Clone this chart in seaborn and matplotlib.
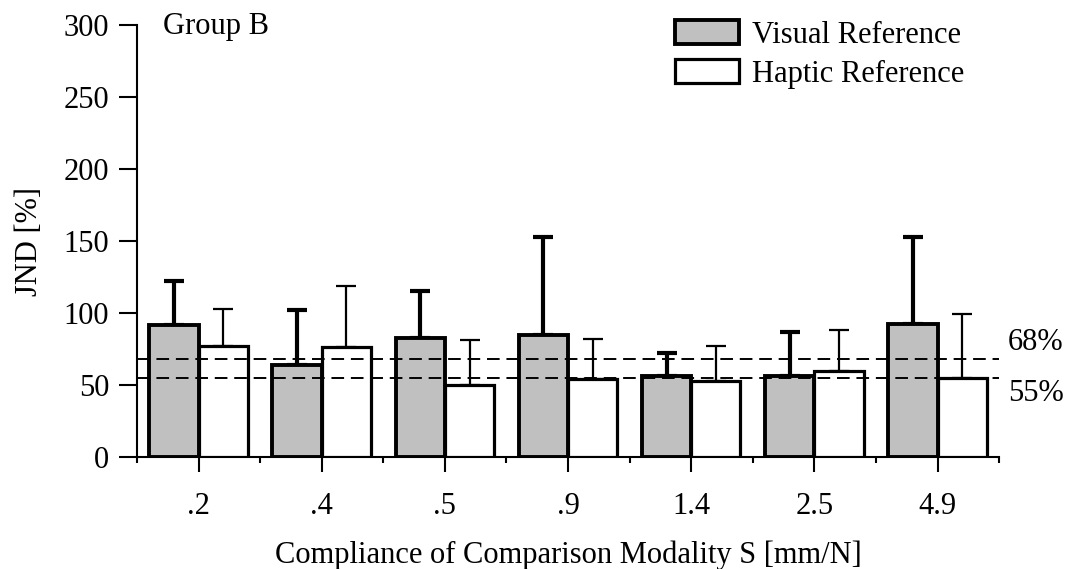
import matplotlib
matplotlib.use('Agg')
import matplotlib.pyplot as plt
import numpy as np
import pandas as pd
import seaborn as sns

compliance = ['.2', '.4', '.5', '.9', '1.4', '2.5', '4.9']
visual_mean = [92, 64, 83, 85, 56, 56.5, 92.5]
visual_err = [122, 102, 115, 153, 72, 87, 153]
haptic_mean = [77, 76.5, 50, 54, 53, 60, 55]
haptic_err = [103, 119, 81, 82, 77, 88.5, 99]
refs = ['Visual Reference', 'Haptic Reference']
thresholds = [68, 55]
threshold_labels = ['68%', '55%']

df = pd.DataFrame({
    'comp': compliance * 2,
    'jnd': visual_mean + haptic_mean,
    'ref': [refs[0]] * len(compliance) + [refs[1]] * len(compliance),
})

sns.set_style('ticks')
plt.rcParams['font.family'] = ['Liberation Serif', 'DejaVu Serif']
plt.rcParams['text.color'] = 'black'
plt.rcParams['axes.labelcolor'] = 'black'
plt.rcParams['xtick.color'] = 'black'
plt.rcParams['ytick.color'] = 'black'
plt.rcParams['axes.edgecolor'] = 'black'
FS = 22

fig = plt.figure(figsize=(10.71, 5.69), dpi=100)
ax = fig.add_axes([0.1279, 0.1968, 0.805, 0.7592])

sns.barplot(data=df, x='comp', y='jnd', hue='ref', hue_order=refs,
            palette=['#c0c0c0', 'white'], order=compliance, width=0.8,
            errorbar=None, ax=ax)

# bar edges
edge_w = [2.8, 2.3]
for cont, lw in zip(ax.containers, edge_w):
    for p in cont:
        p.set_edgecolor('black')
        p.set_linewidth(lw)
        p.set_zorder(3)

# upward-only error bars, thick for visual, thin for haptic
err_w = [3.0, 1.6]
for cont, means, tops, lw in zip(ax.containers, [visual_mean, haptic_mean],
                                 [visual_err, haptic_err], err_w):
    xs = [p.get_x() + p.get_width() / 2 for p in cont]
    up = np.array(tops) - np.array(means)
    ax.errorbar(xs, means, yerr=[np.zeros_like(up), up], fmt='none',
                ecolor='black', elinewidth=lw, capsize=7.5, capthick=lw,
                zorder=1)

# threshold lines
for t in thresholds:
    ax.axhline(t, color='black', lw=1.4, dashes=(6.5, 3.5), zorder=5)
ax.text(1.01, thresholds[0] + 1.5, threshold_labels[0],
        transform=ax.get_yaxis_transform(), va='bottom', ha='left', fontsize=FS)
ax.text(1.01, thresholds[1] - 1, threshold_labels[1],
        transform=ax.get_yaxis_transform(), va='top', ha='left', fontsize=FS)

ax.set_xlim(-0.5, 6.5)
ax.set_ylim(0, 300)
ax.set_yticks(range(0, 301, 50))
ax.set_xticks(range(len(compliance)))
ax.set_xticklabels(compliance)
ax.set_xticks(np.arange(-0.5, 7, 1), minor=True)
ax.tick_params(axis='x', which='major', length=11, width=1.5, pad=14, labelsize=FS)
ax.tick_params(axis='x', which='minor', length=4, width=1.5)
ax.tick_params(axis='y', which='major', length=13, width=1.5, pad=7, labelsize=FS)
sns.despine(ax=ax)
for s in ['left', 'bottom']:
    ax.spines[s].set_linewidth(1.5)

ax.set_ylabel('JND [%]', fontsize=FS, labelpad=14)
ax.set_xlabel('Compliance of Comparison Modality S [mm/N]', fontsize=FS, labelpad=14)
ax.text(0.03, 0.997, 'Group B', transform=ax.transAxes, fontsize=FS,
        va='center', ha='left')

leg = ax.legend(loc='upper right', bbox_to_anchor=(0.974, 1.04), frameon=False,
                fontsize=FS, handlelength=2.1, handleheight=0.85,
                handletextpad=0.43, labelspacing=0.3, borderaxespad=0)
for h, lw in zip(leg.legend_handles, edge_w):
    h.set_edgecolor('black')
    h.set_linewidth(lw)

fig.savefig('out.png', dpi=100)
